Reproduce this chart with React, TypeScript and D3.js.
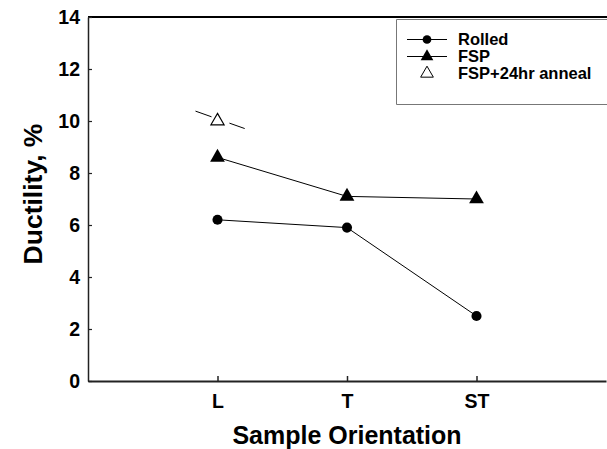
import React, { useEffect, useRef } from 'react';
import * as d3 from 'd3';

// categories and series values
const categories = ['L', 'T', 'ST'];
const rolled = [6.2, 5.9, 2.5];
const fsp = [8.6, 7.1, 7.0];
const anneal = [{ cat: 'L', value: 10.0 }];
// short dashed guide drawn through the anneal point
const annealGuide = [
  { x: 0.83, value: 10.38 },
  { x: 1.21, value: 9.71 },
];
const yTicks = [0, 2, 4, 6, 8, 10, 12, 14];

export default function App() {
  const ref = useRef<SVGSVGElement>(null);

  useEffect(() => {
    const width = 607;
    const height = 449;
    const margin = { top: 17, right: 1, bottom: 68, left: 88 };
    const font = 'Liberation Sans, Arial, sans-serif';

    const svg = d3.select(ref.current).attr('width', width).attr('height', height);
    svg.selectAll('*').remove();

    // x: categories sit at 1, 2, 3 on a 0..4 span; the right frame edge falls outside the picture
    const x = d3.scaleLinear().domain([0, 4]).range([margin.left, width - margin.right]);
    const xc = (c: string) => x(categories.indexOf(c) + 1);
    const y = d3
      .scaleLinear()
      .domain([0, 14])
      .range([height - margin.bottom, margin.top]);

    const line = d3
      .line<number>()
      .x((d, i) => x(i + 1))
      .y((d) => y(d));

    const plot = svg.append('g');

    // series lines
    [rolled, fsp].forEach((s) => {
      plot
        .append('path')
        .attr('d', line(s))
        .attr('fill', 'none')
        .attr('stroke', '#000')
        .attr('stroke-width', 1);
    });

    // anneal guide
    plot
      .append('path')
      .attr(
        'd',
        d3
          .line<{ x: number; value: number }>()
          .x((d) => x(d.x))
          .y((d) => y(d.value))(annealGuide),
      )
      .attr('fill', 'none')
      .attr('stroke', '#000')
      .attr('stroke-width', 1)
      .attr('stroke-dasharray', '17,19,17');

    const tri = d3.symbol().type(d3.symbolTriangle).size(95);
    const circ = d3.symbol().type(d3.symbolCircle).size(80);

    plot
      .selectAll('.rolled')
      .data(rolled)
      .join('path')
      .attr('d', circ)
      .attr('transform', (d, i) => `translate(${x(i + 1)},${y(d)})`)
      .attr('fill', '#000');

    plot
      .selectAll('.fsp')
      .data(fsp)
      .join('path')
      .attr('d', tri)
      .attr('transform', (d, i) => `translate(${x(i + 1)},${y(d)})`)
      .attr('fill', '#000');

    plot
      .selectAll('.anneal')
      .data(anneal)
      .join('path')
      .attr('d', d3.symbol().type(d3.symbolTriangle).size(75))
      .attr('transform', (d) => `translate(${xc(d.cat)},${y(d.value)})`)
      .attr('fill', '#fff')
      .attr('stroke', '#000')
      .attr('stroke-width', 1.2);

    // top line runs off the right edge
    const y0 = y(0);
    const yTop = y(14);
    svg
      .append('line')
      .attr('x1', margin.left)
      .attr('x2', width + 5)
      .attr('y1', yTop)
      .attr('y2', yTop)
      .attr('stroke', '#000')
      .attr('stroke-width', 2);

    // y axis, ticks inward
    const yAxis = svg
      .append('g')
      .attr('transform', `translate(${margin.left},0)`)
      .call(d3.axisLeft(y).tickValues(yTicks).tickSizeInner(-4).tickSizeOuter(0).tickPadding(8));
    yAxis.select('.domain').attr('stroke', '#222').attr('stroke-width', 1.5);
    yAxis.selectAll('.tick line').attr('stroke', '#222').attr('stroke-width', 1.2);
    yAxis
      .selectAll('.tick text')
      .attr('font-family', font)
      .attr('font-weight', 'bold')
      .attr('font-size', 19.5)
      .attr('fill', '#000');

    // x axis, ticks inward
    const xAxis = svg
      .append('g')
      .attr('transform', `translate(0,${y0})`)
      .call(
        d3
          .axisBottom(x)
          .tickValues([1, 2, 3])
          .tickFormat((d) => categories[(d as number) - 1])
          .tickSizeInner(-5)
          .tickSizeOuter(0)
          .tickPadding(13),
      );
    xAxis.select('.domain').attr('stroke', '#222').attr('stroke-width', 1.8);
    xAxis.selectAll('.tick line').attr('stroke', '#222').attr('stroke-width', 1.5);
    xAxis
      .selectAll('.tick text')
      .attr('font-family', font)
      .attr('font-weight', 'bold')
      .attr('font-size', 19.5)
      .attr('fill', '#000');

    // axis titles
    svg
      .append('text')
      .attr('x', x(2))
      .attr('y', 444)
      .attr('text-anchor', 'middle')
      .attr('font-family', font)
      .attr('font-weight', 'bold')
      .attr('font-size', 25)
      .text('Sample Orientation');

    svg
      .append('text')
      .attr('transform', `translate(42,194) rotate(-90)`)
      .attr('text-anchor', 'middle')
      .attr('font-family', font)
      .attr('font-weight', 'bold')
      .attr('font-size', 26.5)
      .text('Ductility, %');

    // legend: box runs past the right edge, only three sides show
    const legend = svg.append('g');
    legend
      .append('path')
      .attr('d', `M${width + 5},19.5H396.5V104.5H${width + 5}`)
      .attr('fill', '#fff')
      .attr('stroke', '#777')
      .attr('stroke-width', 1);

    const items = [
      { label: 'Rolled', sym: circ, fill: '#000', line: true },
      { label: 'FSP', sym: tri, fill: '#000', line: true },
      { label: 'FSP+24hr anneal', sym: tri, fill: '#fff', line: false },
    ];
    items.forEach((it, i) => {
      const ly = 39.5 + i * 17;
      if (it.line) {
        legend
          .append('line')
          .attr('x1', 407)
          .attr('x2', 447)
          .attr('y1', ly)
          .attr('y2', ly)
          .attr('stroke', '#000')
          .attr('stroke-width', 1);
      }
      legend
        .append('path')
        .attr('d', it.sym.size(it.label === 'Rolled' ? 60 : 70)())
        .attr('transform', `translate(427,${ly})`)
        .attr('fill', it.fill)
        .attr('stroke', it.fill === '#fff' ? '#000' : 'none');
      legend
        .append('text')
        .attr('x', 458)
        .attr('y', ly)
        .attr('dy', '0.36em')
        .attr('font-family', font)
        .attr('font-weight', 'bold')
        .attr('font-size', 16.5)
        .text(it.label);
    });
  }, []);

  return (
    <div style={{ position: 'absolute', left: 0, top: 0, width: 607, height: 449, overflow: 'hidden' }}>
      <svg ref={ref} style={{ display: 'block' }} />
    </div>
  );
}
